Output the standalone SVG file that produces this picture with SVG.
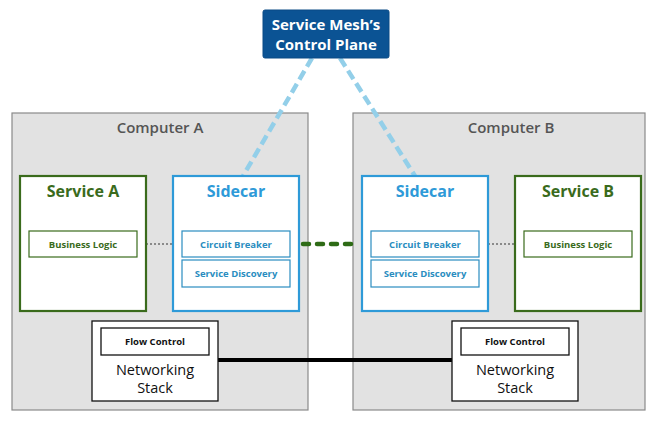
<svg xmlns="http://www.w3.org/2000/svg" width="657" height="421" viewBox="0 0 657 421">
<style>
text{font-family:"Open Sans","Noto Sans","Liberation Sans",sans-serif;text-anchor:middle}
.comp{fill:#e2e2e2;stroke:#8a8a8a;stroke-width:1.2}
.comptxt{font-size:15px;font-weight:600;fill:#555}
.svc{fill:#fff;stroke:#3a6b1c;stroke-width:2.2}
.svctxt{font-size:16px;font-weight:bold;fill:#3a6b1c}
.inner-g{fill:#fff;stroke:#3a6b1c;stroke-width:1.2}
.innertxt-g{font-size:9.5px;font-weight:bold;fill:#3a6b1c}
.side{fill:#fff;stroke:#2e9ad8;stroke-width:2.2}
.sidetxt{font-size:16px;font-weight:bold;fill:#2e9ad8}
.inner-b{fill:#fff;stroke:#2a8dc0;stroke-width:1.2}
.innertxt-b{font-size:9.5px;font-weight:bold;fill:#2a8dc0}
.net{fill:#fff;stroke:#111;stroke-width:1.3}
.fc{fill:#fff;stroke:#111;stroke-width:1.3}
.fctxt{font-size:9.5px;font-weight:bold;fill:#111}
.nettxt{font-size:14.5px;fill:#111}
</style>
<g id="computer-a"><rect class="comp" x="12" y="113" width="296" height="297"/><text class="comptxt" x="160" y="133">Computer A</text></g>
<g id="computer-b"><rect class="comp" x="353" y="113" width="292" height="297"/><text class="comptxt" x="511" y="133">Computer B</text></g>
<g id="connectors">
<line x1="312" y1="58" x2="243" y2="176" stroke="#93cfe9" stroke-width="4.5" stroke-dasharray="10 5"/>
<line x1="340" y1="58" x2="415" y2="176" stroke="#93cfe9" stroke-width="4.5" stroke-dasharray="10 5"/>
<line x1="146" y1="244" x2="173" y2="244" stroke="#333" stroke-width="1" stroke-dasharray="2 2"/>
<line x1="488" y1="244" x2="524" y2="244" stroke="#333" stroke-width="1" stroke-dasharray="2 2"/>
<line x1="303" y1="244" x2="358" y2="244" stroke="#2e6b16" stroke-width="4.5" stroke-linecap="round" stroke-dasharray="6 8"/>
<line x1="218" y1="360" x2="452" y2="360" stroke="#000" stroke-width="4"/>
</g>
<g id="control-plane"><rect x="263" y="10" width="126" height="48" rx="2" fill="#0b5394" stroke="#0a4a85" stroke-width="1"/><text x="326" y="30" font-size="15" font-weight="bold" fill="#fff">Service Mesh’s</text><text x="326" y="50" font-size="15" font-weight="bold" fill="#fff">Control Plane</text></g>
<g id="service-a"><rect class="svc" x="20" y="176" width="126" height="135"/><text class="svctxt" x="83" y="197">Service A</text>
<rect class="inner-g" x="29" y="231" width="108" height="26"/><text class="innertxt-g" x="83" y="248">Business Logic</text></g>
<g id="sidecar-a"><rect class="side" x="173" y="176" width="126" height="135"/><text class="sidetxt" x="236" y="197">Sidecar</text>
<rect class="inner-b" x="182" y="231" width="108" height="26"/><text class="innertxt-b" x="236" y="248">Circuit Breaker</text>
<rect class="inner-b" x="182" y="260" width="108" height="27"/><text class="innertxt-b" x="236" y="277">Service Discovery</text></g>
<g id="sidecar-b"><rect class="side" x="362" y="176" width="126" height="135"/><text class="sidetxt" x="425" y="197">Sidecar</text>
<rect class="inner-b" x="371" y="231" width="108" height="26"/><text class="innertxt-b" x="425" y="248">Circuit Breaker</text>
<rect class="inner-b" x="371" y="260" width="108" height="27"/><text class="innertxt-b" x="425" y="277">Service Discovery</text></g>
<g id="service-b"><rect class="svc" x="515" y="176" width="126" height="135"/><text class="svctxt" x="578" y="197">Service B</text>
<rect class="inner-g" x="524" y="231" width="108" height="26"/><text class="innertxt-g" x="578" y="248">Business Logic</text></g>
<g id="net-a"><rect class="net" x="92" y="321" width="126" height="80"/>
<rect class="fc" x="101" y="328" width="108" height="27"/><text class="fctxt" x="155" y="345">Flow Control</text>
<text class="nettxt" x="155" y="375">Networking</text><text class="nettxt" x="155" y="393">Stack</text></g>
<g id="net-b"><rect class="net" x="452" y="321" width="126" height="80"/>
<rect class="fc" x="461" y="328" width="108" height="27"/><text class="fctxt" x="515" y="345">Flow Control</text>
<text class="nettxt" x="515" y="375">Networking</text><text class="nettxt" x="515" y="393">Stack</text></g>
</svg>
